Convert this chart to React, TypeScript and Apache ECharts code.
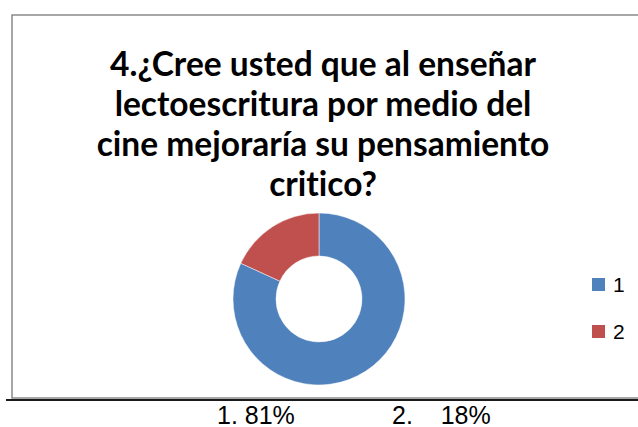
import React, { useEffect, useRef } from "react";
import * as echarts from "echarts";

const titleLines = [
  "4.¿Cree usted que al enseñar",
  "lectoescritura por medio del",
  "cine mejoraría su pensamiento",
  "critico?",
];
const categories = ["1", "2"];
const values = [81, 18];
const colors = ["#4F81BD", "#C0504D"];
const bottomLabels = ["1. 81%", "2.    18%"];

export default function App() {
  const ref = useRef<HTMLDivElement>(null);
  useEffect(() => {
    if (!ref.current) return;
    const chart = echarts.init(ref.current, undefined, { renderer: "svg" });
    chart.setOption({
      animation: false,
      backgroundColor: "#ffffff",
      title: {
        text: titleLines.join("\n"),
        left: 323,
        top: 43,
        textAlign: "center",
        padding: 0,
        textStyle: {
          fontFamily: "Lato",
          fontWeight: "bold",
          fontSize: 33.5,
          lineHeight: 40,
          color: "#000000",
        },
      },
      legend: {
        orient: "vertical",
        left: 590,
        top: 274,
        padding: 0,
        itemWidth: 15,
        itemHeight: 15,
        itemGap: 26,
        icon: "rect",
        data: categories,
        textStyle: {
          fontFamily: "Liberation Sans",
          fontSize: 21,
          color: "#000000",
          padding: [0, 0, 0, 2],
        },
      },
      graphic: [
        {
          type: "rect",
          shape: { x: 12, y: 15, width: 700, height: 383 },
          style: { fill: "none", stroke: "#8a8a8a", lineWidth: 1.5 },
          z: -1,
        },
        {
          type: "line",
          shape: { x1: 6, y1: 400, x2: 638, y2: 400 },
          style: { stroke: "#1a1a1a", lineWidth: 2 },
        },
        ...bottomLabels.map((t, i) => ({
          type: "text",
          x: i === 0 ? 217 : 392,
          y: 414.5,
          style: {
            text: t,
            fontFamily: "Liberation Sans",
            fontSize: 25,
            lineHeight: 24,
            fill: "#000000",
            align: "left",
            verticalAlign: "middle",
          },
        })),
      ],
      series: [
        {
          type: "pie",
          center: [319, 299],
          radius: [43, 86],
          startAngle: 90,
          clockwise: true,
          label: { show: false },
          labelLine: { show: false },
          itemStyle: { borderColor: "#ffffff", borderWidth: 0.5 },
          data: categories.map((c, i) => ({
            name: c,
            value: values[i],
            itemStyle: { color: colors[i] },
          })),
        },
      ],
    });
    return () => chart.dispose();
  }, []);
  return (
    <div
      ref={ref}
      style={{
        position: "fixed",
        left: 0,
        top: 0,
        width: 638,
        height: 427,
        fontVariantLigatures: "none",
      }}
    />
  );
}
